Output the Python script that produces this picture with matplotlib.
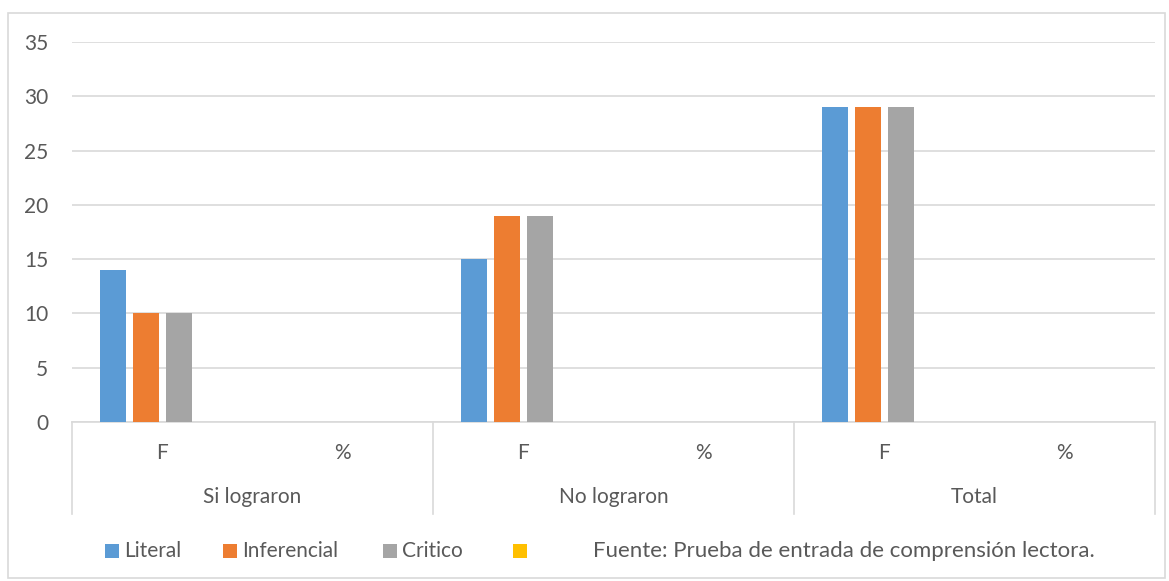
import matplotlib
matplotlib.use("Agg")
import matplotlib.pyplot as plt
from matplotlib.patches import Rectangle
import matplotlib.transforms as mtransforms
import numpy as np

plt.rcParams['font.family'] = ['Lato', 'DejaVu Sans']

# data
sub_labels = ['F', '%', 'F', '%', 'F', '%']
groups = ['Si lograron', 'No lograron', 'Total']
literal = [14, 0, 15, 0, 29, 0]
inferencial = [10, 0, 19, 0, 29, 0]
critico = [10, 0, 19, 0, 29, 0]
cuarto = [0, 0, 0, 0, 0, 0]
series_names = ['Literal', 'Inferencial', 'Critico', '']
colors = ['#5B9BD5', '#ED7D31', '#A5A5A5', '#FFC000']
fuente = 'Fuente: Prueba de entrada de comprensión lectora.'

W, H = 1169, 581
txt = '#595959'
fig = plt.figure(figsize=(W / 100, H / 100), dpi=100)
ax = fig.add_axes([72 / W, 1 - 422 / H, 1083 / W, 380 / H])

# outer chart border
fig.patches.append(Rectangle((8 / W, 3 / H), 1157 / W, 565 / H, transform=fig.transFigure,
                             fill=False, edgecolor='#d9d9d9', linewidth=1.2))

x = np.arange(len(sub_labels))
step = 33 / 180.5
bw = 26 / 180.5
all_series = [literal, inferencial, critico, cuarto]
for i, vals in enumerate(all_series):
    ax.bar(x + (i - 1.5) * step, vals, width=bw, color=colors[i], zorder=3)

ax.set_xlim(-0.5, 5.5)
ax.set_ylim(0, 35)
ax.set_yticks(range(0, 36, 5))
ax.grid(axis='y', color='#d9d9d9', linewidth=1.2, zorder=0)
for s in ['top', 'right', 'left']:
    ax.spines[s].set_visible(False)
ax.spines['bottom'].set_color('#d9d9d9')
ax.spines['bottom'].set_linewidth(1.2)
ax.tick_params(axis='y', length=0, pad=17, labelsize=15, labelcolor=txt)
ax.set_xticks(x)
ax.set_xticklabels(sub_labels)
ax.tick_params(axis='x', length=0, pad=15, labelsize=15, labelcolor=txt)

# multi-level category axis
trans = mtransforms.blended_transform_factory(ax.transData, ax.transAxes)
for g, name in enumerate(groups):
    ax.text(2 * g + 0.5, -0.197, name, transform=trans, ha='center', va='center',
            fontsize=15, color=txt)
for sx in [-0.5, 1.5, 3.5, 5.5]:
    ax.plot([sx, sx], [0, -0.242], transform=trans, color='#d9d9d9', linewidth=1.2,
            clip_on=False)

# legend drawn by hand to keep Excel spacing
sq_x = [105, 223, 383, 513]
ly = 1 - 551 / H
for px, c, name in zip(sq_x, colors, series_names):
    fig.patches.append(Rectangle((px / W, 1 - 558 / H), 14 / W, 14 / H,
                                 transform=fig.transFigure, facecolor=c, edgecolor='none'))
    if name:
        fig.text((px + 19) / W, ly, name, ha='left', va='center', fontsize=15, color=txt)
fig.text(593 / W, ly, fuente, ha='left', va='center', fontsize=16, color=txt)

fig.savefig('out.png', dpi=100)
